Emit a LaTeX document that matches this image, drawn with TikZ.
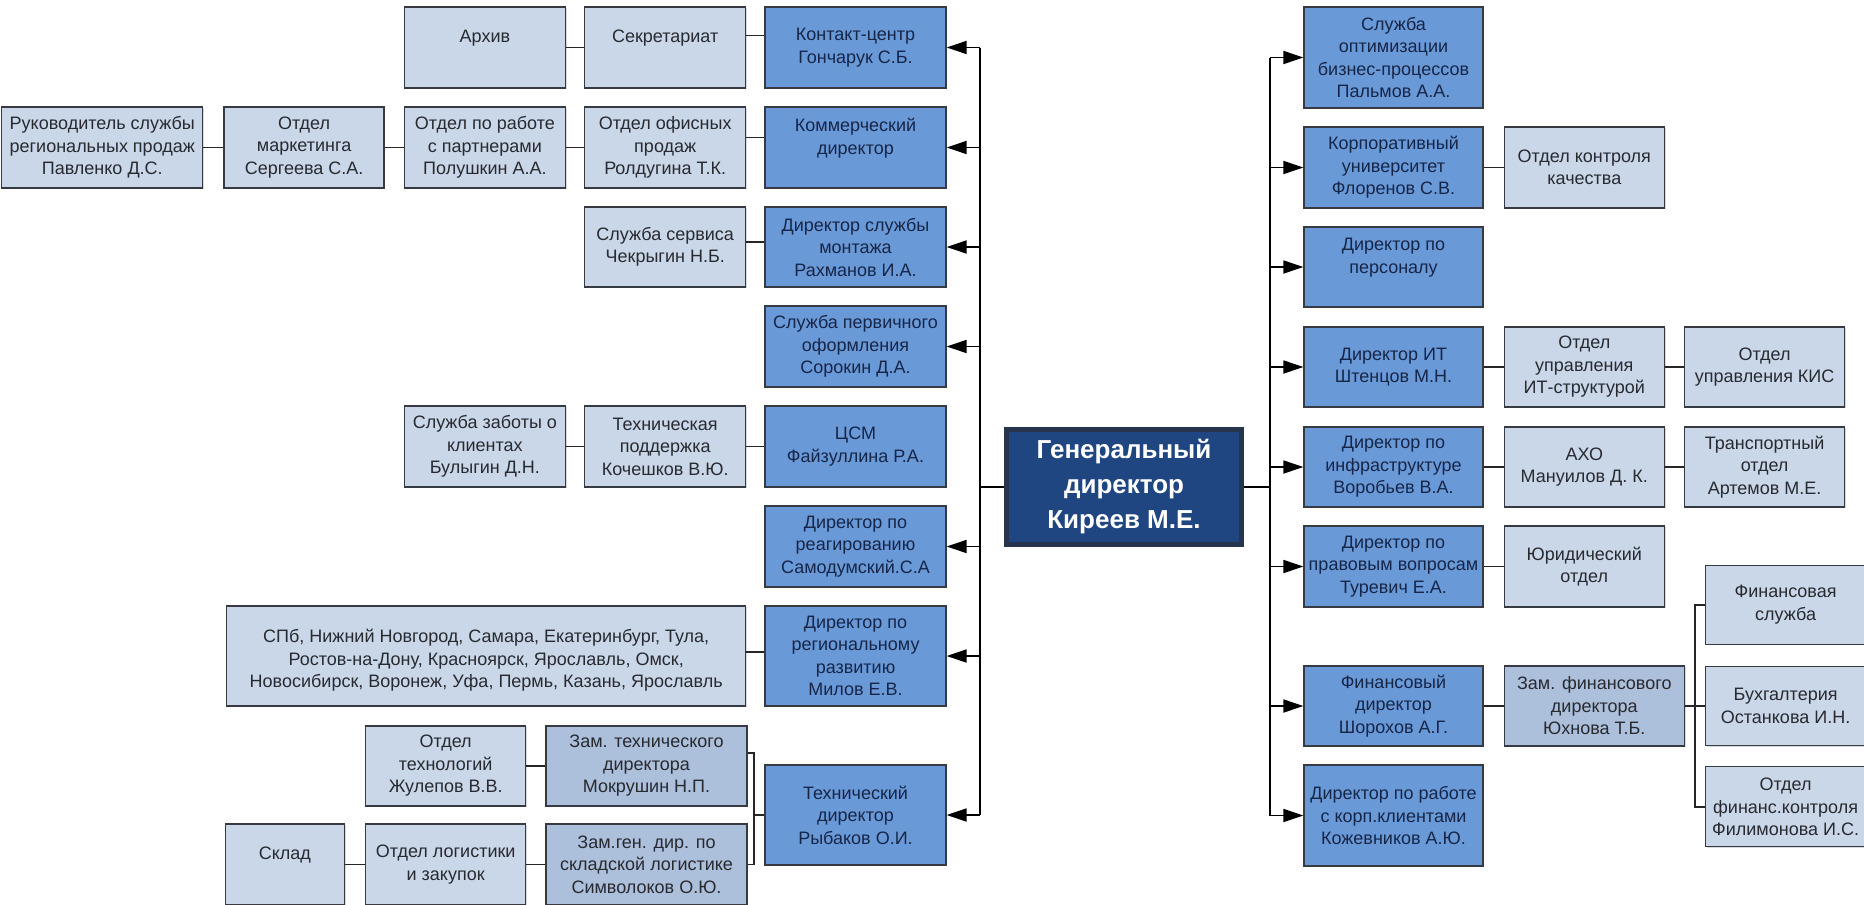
\documentclass[tikz,border=0pt]{standalone}
\usepackage{fontspec}
\setmainfont{Liberation Sans}
\usetikzlibrary{positioning, arrows.meta, shadows}
\definecolor{bossblue}{RGB}{106,153,216}
\definecolor{deptblue}{RGB}{201,215,233}
\definecolor{zamblue}{RGB}{172,191,219}
\definecolor{ceoblue}{RGB}{32,70,130}
\definecolor{ceoedge}{RGB}{38,52,78}
\definecolor{edge}{RGB}{55,58,66}
\definecolor{bosstext}{RGB}{22,38,72}
\definecolor{depttext}{RGB}{40,42,48}
\newcommand{\boxfont}{\fontsize{18}{22.5}\selectfont}
\newcommand{\ceofont}{\fontsize{26}{35}\selectfont\bfseries}
\tikzset{
  dept/.style = {draw=edge, line width=1.3pt, fill=deptblue, text=depttext, font=\boxfont,
                 align=center, inner sep=1pt, minimum width=161pt, minimum height=81pt,
                 drop shadow={shadow xshift=1.2pt, shadow yshift=-1.2pt, opacity=.3}},
  zam/.style = {dept, fill=zamblue},
  boss/.style = {dept, fill=bossblue, text=bosstext, minimum width=181pt},
  rboss/.style = {boss, minimum width=179pt},
  ceo/.style = {draw=ceoedge, line width=5pt, fill=ceoblue, text=white, font=\ceofont,
                align=center, minimum width=235pt, minimum height=115pt},
  wire/.style = {draw=black!85, line width=1.8pt},
  feed/.style = {draw=black, line width=1.8pt, -{Triangle[length=20pt, width=13pt]}},
}
\begin{document}
\begin{tikzpicture}[x=1pt, y=-1pt]
  \useasboundingbox (0,0) rectangle (1864,905);
  % left column
  \node [boss] (kontakt) at (855.5,47.5) {Контакт-центр\\Гончарук С.Б.};
  \node [boss] (kommer) at (855.5,147.5) {Коммерческий\\директор\\\mbox{}};
  \node [boss, minimum height=80pt] (montazh) at (855.5,247) {Директор службы\\монтажа\\Рахманов И.А.};
  \node [boss] (pervich) at (855.5,346.5) {Служба первичного\\оформления\\Сорокин Д.А.};
  \node [boss] (csm) at (855.5,446.5) {ЦСМ\\Файзуллина Р.А.};
  \node [boss] (reag) at (855.5,546.5) {Директор по\\реагированию\\Самодумский.С.А};
  \node [boss, minimum height=100pt] (region) at (855.5,656) {Директор по\\региональному\\развитию\\Милов Е.В.};
  \node [boss, minimum height=100pt] (tech) at (855.5,815) {Технический\\директор\\Рыбаков О.И.};
  \node [dept, left = 18pt of kontakt] (sekr) {Секретариат\\\mbox{}};
  \node [dept, left = 18pt of sekr] (arhiv) {Архив\\\mbox{}};
  \node [dept, left = 18pt of kommer] (ofis) {Отдел офисных\\продаж\\Ролдугина Т.К.};
  \node [dept, left = 18pt of ofis] (partn) {Отдел по работе\\с партнерами\\Полушкин А.А.};
  \node [dept, minimum width=160pt, left = 19pt of partn] (market) {Отдел\\маркетинга\\Сергеева С.А.};
  \node [dept, minimum width=201pt, left = 20pt of market] (rukov) {Руководитель службы\\региональных продаж\\Павленко Д.С.};
  \node [dept, minimum height=80pt, left = 18pt of montazh] (servis) {Служба сервиса\\Чекрыгин Н.Б.};
  \node [dept, left = 18pt of csm] (techsup) {Техническая\\поддержка\\Кочешков В.Ю.};
  \node [dept, left = 18pt of techsup] (zabota) {Служба заботы о\\клиентах\\Булыгин Д.Н.};
  \node [dept, minimum width=519pt, minimum height=100pt, left = 18pt of region] (cities)
        {\mbox{}\\СПб, Нижний Новгород, Самара, Екатеринбург, Тула,\\Ростов-на-Дону, Красноярск, Ярославль, Омск,\\Новосибирск, Воронеж, Уфа, Пермь, Казань, Ярославль};
  \node [zam, minimum width=201pt, minimum height=80pt] (zamtech) at (646.5,766) {Зам. технического\\директора\\Мокрушин Н.П.};
  \node [zam, minimum width=201pt] (zamsklad) at (646.5,864.5) {Зам.ген. дир. по\\складской логистике\\Символоков О.Ю.};
  \node [dept, minimum width=160pt, minimum height=80pt, left = 19pt of zamtech] (techno) {Отдел\\технологий\\Жулепов В.В.};
  \node [dept, minimum width=160pt, left = 19pt of zamsklad] (logist) {Отдел логистики\\и закупок};
  \node [dept, minimum width=119pt, left = 20pt of logist] (sklad) {Склад\\\mbox{}};
  % centre
  \node [ceo] (gd) at (1124,487) {Генеральный\\директор\\Киреев М.Е.};
  % right column
  \node [rboss, minimum height=101pt] (palmov) at (1393.5,57.5) {Служба\\оптимизации\\бизнес-процессов\\Пальмов А.А.};
  \node [rboss] (korpuniv) at (1393.5,167.5) {Корпоративный\\университет\\Флоренов С.В.};
  \node [rboss, minimum height=80pt] (personal) at (1393.5,267) {Директор по\\персоналу\\\mbox{}};
  \node [rboss, minimum height=80pt] (itdir) at (1393.5,367) {Директор ИТ\\Штенцов М.Н.};
  \node [rboss, minimum height=80pt] (infra) at (1393.5,467) {Директор по\\инфраструктуре\\Воробьев В.А.};
  \node [rboss] (pravo) at (1393.5,566.5) {Директор по\\правовым вопросам\\Туревич Е.А.};
  \node [rboss, minimum height=80pt] (findir) at (1393.5,706) {Финансовый\\директор\\Шорохов А.Г.};
  \node [rboss, minimum height=101pt] (korpkl) at (1393.5,815.5) {Директор по работе\\с корп.клиентами\\Кожевников А.Ю.};
  \node [dept, minimum width=160pt, right = 20pt of korpuniv] (kontrol) {Отдел контроля\\качества};
  \node [dept, minimum width=160pt, minimum height=80pt, right = 20pt of itdir] (itstruct) {Отдел\\управления\\ИТ-структурой};
  \node [dept, minimum width=160pt, minimum height=80pt, right = 19pt of itstruct] (kis) {Отдел\\управления КИС};
  \node [dept, minimum width=160pt, minimum height=80pt, right = 20pt of infra] (aho) {АХО\\Мануилов Д. К.};
  \node [dept, minimum width=160pt, minimum height=80pt, right = 19pt of aho] (transp) {Транспортный\\отдел\\Артемов М.Е.};
  \node [dept, minimum width=160pt, right = 20pt of pravo] (yurid) {Юридический\\отдел};
  \node [zam, minimum width=180pt, minimum height=80pt, right = 20pt of findir] (zamfin) {Зам. финансового\\директора\\Юхнова Т.Б.};
  \node [dept, minimum width=160pt, minimum height=79pt, right = 20pt of zamfin] (buh) {Бухгалтерия\\Останкова И.Н.};
  \node [dept, minimum width=160pt, minimum height=79pt, above = 21pt of buh] (finsl) {Финансовая\\служба};
  \node [dept, minimum width=160pt, minimum height=80pt, below = 20pt of buh] (finkontr) {Отдел\\финанс.контроля\\Филимонова И.С.};
  \coordinate (trunkL) at (980,486);
  \coordinate (trunkR) at (1270,486);
  \coordinate (techbus) at (754,815);
  % links inside the branches
  \draw [wire] (arhiv.east) -- (sekr.west);
  \draw [wire] ([yshift=12pt]sekr.east) -- ([yshift=12pt]kontakt.west);
  \draw [wire] (rukov.east) -- (market.west);
  \draw [wire] (market.east) -- (partn.west);
  \draw [wire] (partn.east) -- (ofis.west);
  \draw [wire] ([yshift=10pt]ofis.east) -- ([yshift=10pt]kommer.west);
  \draw [wire] ([yshift=5pt]servis.east) -- ([yshift=5pt]montazh.west);
  \draw [wire] (zabota.east) -- (techsup.west);
  \draw [wire] (techsup.east) -- (csm.west);
  \draw [wire] ([yshift=4pt]cities.east) -- ([yshift=4pt]region.west);
  \draw [wire] (techno.east) -- (zamtech.west);
  \draw [wire] (sklad.east) -- (logist.west);
  \draw [wire] (logist.east) -- (zamsklad.west);
  \draw [wire] ([yshift=13pt]zamtech.east) -| (techbus) |- (zamsklad.east);
  \draw [wire] (tech.west) -- (techbus);
  \draw [wire] (korpuniv.east) -- (kontrol.west);
  \draw [wire] (itdir.east) -- (itstruct.west);
  \draw [wire] (itstruct.east) -- (kis.west);
  \draw [wire] (infra.east) -- (aho.west);
  \draw [wire] (aho.east) -- (transp.west);
  \draw [wire] (pravo.east) -- (yurid.west);
  \draw [wire] (findir.east) -- (zamfin.west);
  \draw [wire] (zamfin.east) -- (buh.west);
  \draw [wire] (finsl.west) -- ++(-10,0) |- (finkontr.west);
  % trunks
  \draw [wire, draw=black, line width=2.4pt] (gd.west) -- (gd.west -| trunkL);
  \draw [wire, draw=black, line width=2.4pt] (gd.east) -- (gd.east -| trunkR);
  \draw [wire, draw=black] (kontakt.east -| trunkL) -- (tech.east -| trunkL);
  \draw [wire, draw=black] (palmov.west -| trunkR) -- (korpkl.west -| trunkR);
  \draw [feed] (kontakt.east -| trunkL) -- (kontakt.east);
  \draw [feed] (kommer.east -| trunkL) -- (kommer.east);
  \draw [feed] (montazh.east -| trunkL) -- (montazh.east);
  \draw [feed] (pervich.east -| trunkL) -- (pervich.east);
  \draw [feed] (reag.east -| trunkL) -- (reag.east);
  \draw [feed] (region.east -| trunkL) -- (region.east);
  \draw [feed] (tech.east -| trunkL) -- (tech.east);
  \draw [feed] (palmov.west -| trunkR) -- (palmov.west);
  \draw [feed] (korpuniv.west -| trunkR) -- (korpuniv.west);
  \draw [feed] (personal.west -| trunkR) -- (personal.west);
  \draw [feed] (itdir.west -| trunkR) -- (itdir.west);
  \draw [feed] (infra.west -| trunkR) -- (infra.west);
  \draw [feed] (pravo.west -| trunkR) -- (pravo.west);
  \draw [feed] (findir.west -| trunkR) -- (findir.west);
  \draw [feed] (korpkl.west -| trunkR) -- (korpkl.west);
\end{tikzpicture}
\end{document}
